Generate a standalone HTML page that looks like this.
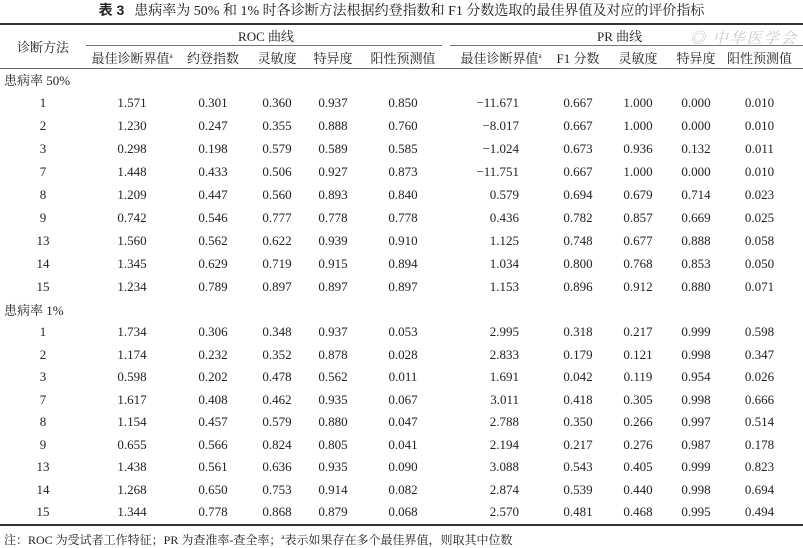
<!DOCTYPE html>
<html><head><meta charset="utf-8"><style>
body{margin:0;width:803px;height:546px;background:#fff;position:relative;overflow:hidden;font-family:"Liberation Serif","Noto Serif CJK SC",serif;color:#222;}
.title{position:absolute;top:0;left:0;width:803px;text-align:center;font-size:14px;line-height:20px;}
.title b{font-family:"Liberation Sans","Noto Sans CJK SC",sans-serif;margin-right:10px;}
table{position:absolute;top:24px;left:0;width:803px;border-collapse:collapse;table-layout:fixed;font-size:13px;}
td{padding:0;text-align:center;white-space:nowrap;overflow:visible;}
tr.h td{height:22px;}
tr.g td{height:23px;}
tr.r1 td{height:23px;}
tr.r2 td{height:22.5px;}
td.sec{text-align:left;padding-left:4px;}
td.pr1{text-align:right;padding-right:37px;}
.line{position:absolute;background:#333;}
.sup{font-size:7px;vertical-align:5px;}
.wm{position:absolute;left:690px;top:27px;color:#c8c8c8;font-size:15px;font-style:italic;letter-spacing:2px;}
.note{position:absolute;left:4px;top:529px;font-size:12px;line-height:16px;}
</style></head><body>
<div class="title"><b>表 3</b>患病率为 50% 和 1% 时各诊断方法根据约登指数和 F1 分数选取的最佳界值及对应的评价指标</div>
<div class="line" style="left:0;top:23px;width:803px;height:1.5px"></div>
<div class="line" style="left:86px;top:45px;width:356px;height:1px;background:#777"></div>
<div class="line" style="left:450px;top:45px;width:353px;height:1px;background:#777"></div>
<div class="line" style="left:0;top:68px;width:803px;height:1px;background:#666"></div>
<div class="line" style="left:0;top:524px;width:803px;height:1.5px"></div>
<div class="wm">◎ 中华医学会</div>
<table>
<colgroup><col style="width:86px"><col style="width:92px"><col style="width:70px"><col style="width:58px"><col style="width:54px"><col style="width:86px"><col style="width:110px"><col style="width:44px"><col style="width:76px"><col style="width:40px"><col style="width:87px"></colgroup>
<tr class="h"><td rowspan="2">诊断方法</td><td colspan="5">ROC 曲线</td><td colspan="5" style="padding-right:10px">PR 曲线</td></tr>
<tr class="h"><td>最佳诊断界值<span class="sup">a</span></td><td>约登指数</td><td>灵敏度</td><td>特异度</td><td>阳性预测值</td><td>最佳诊断界值<span class="sup">a</span></td><td>F1 分数</td><td>灵敏度</td><td>特异度</td><td>阳性预测值</td></tr>
<tr class="g"><td class="sec" colspan="11">患病率 50%</td></tr>
<tr class="r1"><td>1</td><td>1.571</td><td>0.301</td><td>0.360</td><td>0.937</td><td>0.850</td><td class="pr1">−11.671</td><td>0.667</td><td>1.000</td><td>0.000</td><td>0.010</td></tr>
<tr class="r1"><td>2</td><td>1.230</td><td>0.247</td><td>0.355</td><td>0.888</td><td>0.760</td><td class="pr1">−8.017</td><td>0.667</td><td>1.000</td><td>0.000</td><td>0.010</td></tr>
<tr class="r1"><td>3</td><td>0.298</td><td>0.198</td><td>0.579</td><td>0.589</td><td>0.585</td><td class="pr1">−1.024</td><td>0.673</td><td>0.936</td><td>0.132</td><td>0.011</td></tr>
<tr class="r1"><td>7</td><td>1.448</td><td>0.433</td><td>0.506</td><td>0.927</td><td>0.873</td><td class="pr1">−11.751</td><td>0.667</td><td>1.000</td><td>0.000</td><td>0.010</td></tr>
<tr class="r1"><td>8</td><td>1.209</td><td>0.447</td><td>0.560</td><td>0.893</td><td>0.840</td><td class="pr1">0.579</td><td>0.694</td><td>0.679</td><td>0.714</td><td>0.023</td></tr>
<tr class="r1"><td>9</td><td>0.742</td><td>0.546</td><td>0.777</td><td>0.778</td><td>0.778</td><td class="pr1">0.436</td><td>0.782</td><td>0.857</td><td>0.669</td><td>0.025</td></tr>
<tr class="r1"><td>13</td><td>1.560</td><td>0.562</td><td>0.622</td><td>0.939</td><td>0.910</td><td class="pr1">1.125</td><td>0.748</td><td>0.677</td><td>0.888</td><td>0.058</td></tr>
<tr class="r1"><td>14</td><td>1.345</td><td>0.629</td><td>0.719</td><td>0.915</td><td>0.894</td><td class="pr1">1.034</td><td>0.800</td><td>0.768</td><td>0.853</td><td>0.050</td></tr>
<tr class="r1"><td>15</td><td>1.234</td><td>0.789</td><td>0.897</td><td>0.897</td><td>0.897</td><td class="pr1">1.153</td><td>0.896</td><td>0.912</td><td>0.880</td><td>0.071</td></tr>
<tr class="g"><td class="sec" colspan="11">患病率 1%</td></tr>
<tr class="r2"><td>1</td><td>1.734</td><td>0.306</td><td>0.348</td><td>0.937</td><td>0.053</td><td class="pr1">2.995</td><td>0.318</td><td>0.217</td><td>0.999</td><td>0.598</td></tr>
<tr class="r2"><td>2</td><td>1.174</td><td>0.232</td><td>0.352</td><td>0.878</td><td>0.028</td><td class="pr1">2.833</td><td>0.179</td><td>0.121</td><td>0.998</td><td>0.347</td></tr>
<tr class="r2"><td>3</td><td>0.598</td><td>0.202</td><td>0.478</td><td>0.562</td><td>0.011</td><td class="pr1">1.691</td><td>0.042</td><td>0.119</td><td>0.954</td><td>0.026</td></tr>
<tr class="r2"><td>7</td><td>1.617</td><td>0.408</td><td>0.462</td><td>0.935</td><td>0.067</td><td class="pr1">3.011</td><td>0.418</td><td>0.305</td><td>0.998</td><td>0.666</td></tr>
<tr class="r2"><td>8</td><td>1.154</td><td>0.457</td><td>0.579</td><td>0.880</td><td>0.047</td><td class="pr1">2.788</td><td>0.350</td><td>0.266</td><td>0.997</td><td>0.514</td></tr>
<tr class="r2"><td>9</td><td>0.655</td><td>0.566</td><td>0.824</td><td>0.805</td><td>0.041</td><td class="pr1">2.194</td><td>0.217</td><td>0.276</td><td>0.987</td><td>0.178</td></tr>
<tr class="r2"><td>13</td><td>1.438</td><td>0.561</td><td>0.636</td><td>0.935</td><td>0.090</td><td class="pr1">3.088</td><td>0.543</td><td>0.405</td><td>0.999</td><td>0.823</td></tr>
<tr class="r2"><td>14</td><td>1.268</td><td>0.650</td><td>0.753</td><td>0.914</td><td>0.082</td><td class="pr1">2.874</td><td>0.539</td><td>0.440</td><td>0.998</td><td>0.694</td></tr>
<tr class="r2"><td>15</td><td>1.344</td><td>0.778</td><td>0.868</td><td>0.879</td><td>0.068</td><td class="pr1">2.570</td><td>0.481</td><td>0.468</td><td>0.995</td><td>0.494</td></tr>
</table>
<div class="note">注：ROC 为受试者工作特征；PR 为查准率-查全率；<span class="sup">a</span>表示如果存在多个最佳界值，则取其中位数</div>
</body></html>
